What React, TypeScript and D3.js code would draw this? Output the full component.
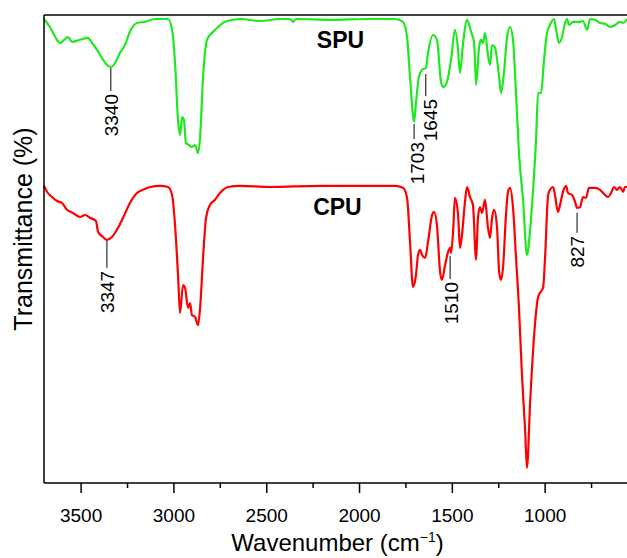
import React from "react";
import * as d3 from "d3";

// SPU spectrum: [wavenumber (cm-1), transmittance (offset, a.u.)]
const spu: [number, number][] = [
  [3700,116],[3668,114],[3630,110.8],[3614,110],[3571,111.5],[3549,110.3],[3506,110.8],[3463,111.3],[3441,110],
  [3414,108.3],[3388,106.3],[3361,104.5],[3340,104],[3317,105],[3291,107.5],[3264,109.5],[3237,112.8],[3199,115],
  [3156,115.3],[3102,116],[3048,116],[3032,116],[3010,113.3],[2994,105],[2978,90.8],[2967,87],[2956,91.5],
  [2946,90.8],[2935,85],[2919,84.5],[2903,84],[2886,84.5],[2870,82.5],[2859,86.5],[2843,101.5],[2822,110.8],
  [2795,112.5],[2762,114],[2725,115.3],[2644,116],[2536,115.5],[2428,116],[2375,116],[2358,115.3],[2342,116],
  [2159,115.8],[1944,116],[1809,116],[1766,115.3],[1744,111.5],[1728,101.5],[1706,90.3],[1696,95],[1680,101.5],
  [1663,103.3],[1642,103.8],[1631,107.5],[1604,112],[1583,110.8],[1561,100.3],[1550,99],[1529,100.3],[1507,105.8],
  [1486,113.3],[1469,108.3],[1459,102.5],[1442,110],[1421,115.8],[1399,112.8],[1383,110.3],[1372,99.5],[1356,109],
  [1345,110.8],[1335,110],[1324,112.5],[1308,107],[1297,104.5],[1286,109.5],[1270,108.8],[1248,101.5],[1238,97.5],
  [1222,102.5],[1205,111.5],[1189,114],[1173,110.8],[1157,97.5],[1141,82.5],[1119,70.8],[1098,57],[1081,63.3],
  [1065,73.3],[1049,85.8],[1038,97.5],[1022,97.5],[1006,105.8],[990,112.5],[974,114.5],[952,116],[941,113.3],
  [925,110],[909,111.5],[893,115],[882,116],[871,114.5],[850,115.3],[812,115.3],[796,115.5],[774,113.3],[758,116],
  [731,115.8],[704,115],[677,114.8],[650,114],[623,114.5],[597,115.3],[580,115],[559,116]
];

// CPU spectrum
const cpu: [number, number][] = [
  [3700,74.3],[3684,72.8],[3657,71.5],[3630,70.5],[3603,70],[3576,68.3],[3544,67.5],[3506,66.5],[3479,67],
  [3452,66.3],[3420,65.5],[3409,62.8],[3382,61.5],[3361,60.8],[3334,61.5],[3307,63.3],[3274,66.3],[3237,70],
  [3199,72.5],[3167,73.3],[3129,74],[3075,74.3],[3032,74],[3010,72],[2994,64.5],[2978,52],[2967,42.5],[2951,49.5],
  [2940,48.8],[2924,43.8],[2913,45],[2903,42],[2886,41.5],[2870,39.5],[2859,43.8],[2843,56.3],[2827,66.3],
  [2806,69.5],[2779,70.8],[2752,72.5],[2709,74],[2644,74.3],[2482,74],[2213,74.3],[1944,74.3],[1809,74.3],
  [1766,73.8],[1744,71.3],[1728,60.3],[1712,49],[1696,52],[1685,57],[1674,58.3],[1663,57],[1647,56.3],[1631,60.3],
  [1609,67],[1599,67.8],[1583,64.5],[1566,52.8],[1556,50.8],[1539,54.5],[1523,57.8],[1512,58.8],[1507,57.5],
  [1496,62.8],[1486,71.3],[1469,67],[1459,58.8],[1448,62],[1432,70.3],[1421,74],[1405,71.5],[1389,69.5],
  [1372,55.8],[1362,66.3],[1351,69],[1340,67.5],[1324,70.8],[1308,63.8],[1297,61.3],[1286,66.3],[1275,68.3],
  [1259,63.8],[1248,52.8],[1238,50.8],[1227,53.8],[1211,67],[1200,72.8],[1189,73.8],[1173,68.8],[1157,56.3],
  [1141,43.8],[1125,27],[1108,13.3],[1098,3.8],[1081,20],[1060,36.5],[1038,46.5],[1028,47.5],[1011,48.8],
  [1001,55.8],[984,72],[974,73.3],[957,74],[947,72],[931,67.8],[920,69.5],[904,72.8],[887,74.3],[877,72.5],
  [855,72],[839,70.3],[828,68.8],[812,69],[796,71.5],[780,71.3],[764,73.8],[731,73.8],[704,73.3],[677,72],
  [661,71.5],[645,72.5],[629,74],[613,73.3],[597,74],[580,72.8],[570,74],[559,74]
];

const seriesNames = ["SPU", "CPU"];
const seriesColors = ["#1ee81e", "#ff0000"];

// peak annotations
const annLabels = ["3340", "1703", "1645", "3347", "1510", "827"];
const annWn = [3340, 1706, 1643, 3361, 1512, 828];
const annT = [104, 90, 102.5, 60.8, 57, 67.8];

const majorTicks = [3500, 3000, 2500, 2000, 1500, 1000];
const minorTicks = [3250, 2750, 2250, 1750, 1250, 750];

// styling
const leaderLen = [23, 15, 22, 27, 23, 20];
const labelDx = [0, 3, 4, 0, 1, 0];

const W = 627, H = 558;
const L = 44, R = 627, T = 15, B = 483;
const FONT = "'Liberation Sans', Arial, Helvetica, sans-serif";

export default function App() {
  const x = d3.scaleLinear().domain([3700, 559]).range([L, R]);
  const y = d3.scaleLinear().domain([0, 117]).range([B, T]);
  const line = d3
    .line<[number, number]>()
    .x((d) => x(d[0]))
    .y((d) => y(d[1]))
    .curve(d3.curveMonotoneX);

  const data = [spu, cpu];
  const nameLabelX = [x(2230), x(2250)];
  const nameLabelY = [48, 215];

  return (
    <svg width={W} height={H} style={{ position: "absolute", left: 0, top: 0 }} fontFamily={FONT}>
      <rect width={W} height={H} fill="#fff" />
      {data.map((d, i) => (
        <path key={i} d={line(d) || ""} fill="none" stroke={seriesColors[i]} strokeWidth={2.2} strokeLinejoin="round" />
      ))}
      {seriesNames.map((n, i) => (
        <text key={n} x={nameLabelX[i]} y={nameLabelY[i]} fontSize={23} fontWeight="bold" fill="#000">
          {n}
        </text>
      ))}
      {annLabels.map((lab, i) => {
        const lx = x(annWn[i]);
        const y0 = y(annT[i]) + 1;
        const y1 = y0 + leaderLen[i];
        const tx = lx + 7 + labelDx[i];
        const ty = y1 + 3;
        return (
          <g key={lab}>
            <line x1={lx} x2={lx} y1={y0} y2={y1} stroke="#000" strokeWidth={1} />
            <text x={tx} y={ty} transform={`rotate(-90, ${tx}, ${ty})`} textAnchor="end" fontSize={19} fill="#000">
              {lab}
            </text>
          </g>
        );
      })}
      {/* axes */}
      <line x1={L} x2={L} y1={T} y2={B} stroke="#000" strokeWidth={1.5} />
      <line x1={L} x2={R} y1={T} y2={T} stroke="#000" strokeWidth={1.5} />
      <line x1={L} x2={R} y1={B} y2={B} stroke="#000" strokeWidth={1.5} />
      {majorTicks.map((t) => (
        <g key={t}>
          <line x1={x(t)} x2={x(t)} y1={B} y2={B + 10} stroke="#000" strokeWidth={1.5} />
          <text x={x(t)} y={522} textAnchor="middle" fontSize={19} fill="#000">
            {t}
          </text>
        </g>
      ))}
      {minorTicks.map((t) => (
        <line key={t} x1={x(t)} x2={x(t)} y1={B} y2={B + 5} stroke="#000" strokeWidth={1.5} />
      ))}
      <text x={(L + R) / 2 + 2} y={551} textAnchor="middle" fontSize={24} fill="#000">
        Wavenumber (cm
        <tspan dy={-9} fontSize={14}>−1</tspan>
        <tspan dy={9}>)</tspan>
      </text>
      <text x={32} y={229} transform="rotate(-90, 32, 229)" textAnchor="middle" fontSize={25} fill="#000">
        Transmittance (%)
      </text>
    </svg>
  );
}
